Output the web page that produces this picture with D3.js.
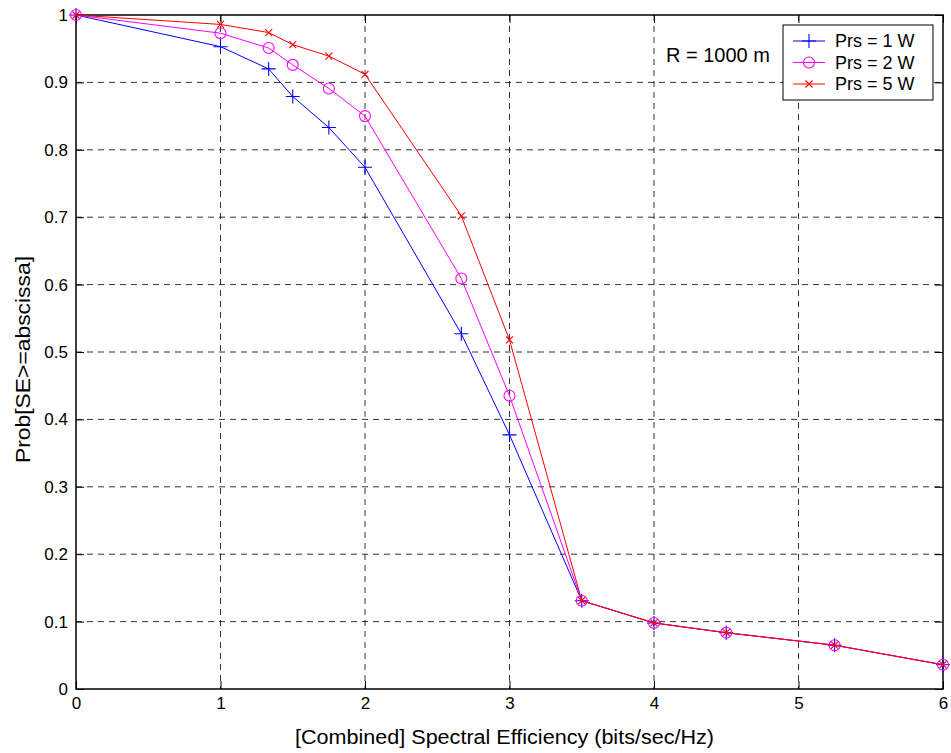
<!DOCTYPE html>
<html><head><meta charset="utf-8">
<script src="https://cdn.jsdelivr.net/npm/d3@7"></script>
<style>body{margin:0;background:#fff;}svg{display:block;font-family:"Liberation Sans",Arial,sans-serif;}</style>
</head><body>
<svg id="c" width="951" height="753"></svg>
<script>
const xValues = [0, 1, 1.3333, 1.5, 1.75, 2, 2.6667, 3, 3.5, 4, 4.5, 5.25, 6];
const prs1 = [1, 0.953, 0.920, 0.879, 0.833, 0.774, 0.527, 0.377, 0.131, 0.098, 0.0835, 0.065, 0.036];
const prs2 = [1, 0.973, 0.951, 0.926, 0.891, 0.850, 0.609, 0.435, 0.131, 0.098, 0.0835, 0.065, 0.036];
const prs5 = [1, 0.986, 0.974, 0.956, 0.939, 0.912, 0.702, 0.518, 0.131, 0.098, 0.0835, 0.065, 0.036];
const seriesNames = ["Prs = 1 W", "Prs = 2 W", "Prs = 5 W"];
const xTicks = [0, 1, 2, 3, 4, 5, 6];
const yTicks = [0, 0.1, 0.2, 0.3, 0.4, 0.5, 0.6, 0.7, 0.8, 0.9, 1];

const svg = d3.select("#c");
const L = 76, R = 943, T = 15, B = 689;
const x = d3.scaleLinear().domain([0, 6]).range([L, R]);
const y = d3.scaleLinear().domain([0, 1]).range([B, T]);
const FF = '"Liberation Sans",Arial,sans-serif';

// grid
const g = svg.append("g");
g.selectAll(".gx").data(xTicks.slice(1, -1)).enter().append("line")
  .attr("x1", d => x(d)).attr("x2", d => x(d)).attr("y1", T).attr("y2", B)
  .attr("stroke", "#000").attr("stroke-width", 0.8).attr("stroke-dasharray", "6,5");
g.selectAll(".gy").data(yTicks.slice(1, -1)).enter().append("line")
  .attr("y1", d => y(d)).attr("y2", d => y(d)).attr("x1", L).attr("x2", R)
  .attr("stroke", "#000").attr("stroke-width", 0.8).attr("stroke-dasharray", "6,5");

// axes (ticks inside, MATLAB style)
const fmt = d => d === 0 || d === 1 ? String(d) : d3.format(".1f")(d);
const axB = d3.axisBottom(x).tickValues(xTicks).tickSize(-8).tickPadding(8).tickFormat(d3.format("d"));
const axT = d3.axisTop(x).tickValues(xTicks).tickSize(-8).tickFormat("");
const axL = d3.axisLeft(y).tickValues(yTicks).tickSize(-8).tickPadding(8).tickFormat(fmt);
const axR = d3.axisRight(y).tickValues(yTicks).tickSize(-8).tickFormat("");
function style(sel){ sel.attr("font-size", 17).attr("font-family", FF);
  sel.select(".domain").remove(); sel.selectAll("line").attr("stroke","#000").attr("stroke-width",1);
  sel.selectAll("text").attr("fill","#000"); }
svg.append("g").attr("transform", `translate(0,${B})`).call(axB).call(style);
svg.append("g").attr("transform", `translate(0,${T})`).call(axT).call(style);
svg.append("g").attr("transform", `translate(${L},0)`).call(axL).call(style);
svg.append("g").attr("transform", `translate(${R},0)`).call(axR).call(style);
svg.append("rect").attr("x", L).attr("y", T).attr("width", R - L).attr("height", B - T)
  .attr("fill", "none").attr("stroke", "#000").attr("stroke-width", 1.5);

const colors = ["#0000ff", "#ff00ff", "#ff0000"];
const data = [prs1, prs2, prs5];
const line = d3.line().x((d, i) => x(xValues[i])).y(d => y(d));

function marker(sel, k, cx, cy) {
  const c = colors[k];
  if (k === 0) {
    sel.append("path").attr("d", `M${cx-7},${cy}H${cx+7}M${cx},${cy-7}V${cy+7}`).attr("stroke", c).attr("stroke-width", 1.1).attr("fill","none");
  } else if (k === 1) {
    sel.append("circle").attr("cx", cx).attr("cy", cy).attr("r", 5.5).attr("stroke", c).attr("stroke-width", 1.1).attr("fill", "none");
  } else {
    sel.append("path").attr("d", `M${cx-3.5},${cy-3.5}L${cx+3.5},${cy+3.5}M${cx-3.5},${cy+3.5}L${cx+3.5},${cy-3.5}`).attr("stroke", c).attr("stroke-width", 1.1).attr("fill","none");
  }
}

data.forEach((vals, k) => {
  svg.append("path").datum(vals).attr("d", line).attr("fill", "none").attr("stroke", colors[k]).attr("stroke-width", 1);
  const mg = svg.append("g");
  vals.forEach((v, i) => marker(mg, k, x(xValues[i]), y(v)));
});

// annotation
svg.append("text").attr("x", 666).attr("y", 62).attr("font-size", 20).attr("fill", "#000").text("R = 1000 m");

// legend
const lg = svg.append("g");
lg.append("rect").attr("x", 783).attr("y", 25).attr("width", 150).attr("height", 75).attr("fill", "#fff").attr("stroke", "#000").attr("stroke-width", 1);
seriesNames.forEach((n, k) => {
  const yy = 41 + k * 21.5;
  lg.append("line").attr("x1", 793).attr("x2", 825).attr("y1", yy).attr("y2", yy).attr("stroke", colors[k]).attr("stroke-width", 1);
  marker(lg, k, 809, yy);
  lg.append("text").attr("x", 835).attr("y", yy + 6).attr("font-size", 18).attr("fill", "#000").text(n);
});

// axis labels
svg.append("text").attr("x", 504.5).attr("y", 744).attr("text-anchor", "middle").attr("font-size", 20).attr("fill", "#000")
  .attr("textLength", 419).attr("lengthAdjust", "spacingAndGlyphs")
  .text("[Combined] Spectral Efficiency (bits/sec/Hz)");
svg.append("text").attr("transform", `translate(30,359.5) rotate(-90)`).attr("text-anchor", "middle").attr("font-size", 20).attr("fill", "#000")
  .attr("textLength", 207).attr("lengthAdjust", "spacingAndGlyphs")
  .text("Prob[SE>=abscissa]");
</script>
</body></html>
